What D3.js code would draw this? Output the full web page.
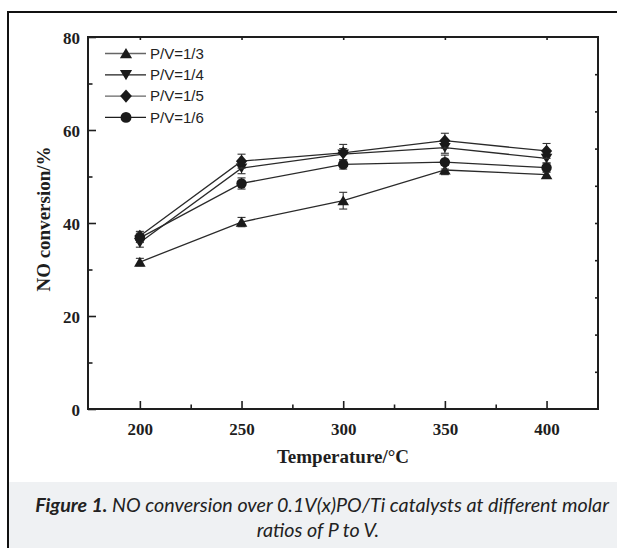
<!DOCTYPE html>
<html><head><meta charset="utf-8">
<script src="https://cdn.jsdelivr.net/npm/d3@7"></script>
<style>body{margin:0;background:#fff}svg{display:block}</style>
</head><body>
<svg id="c" width="617" height="548"></svg>
<script>
const temps = [200, 250, 300, 350, 400];
const seriesNames = ["P/V=1/3", "P/V=1/4", "P/V=1/5", "P/V=1/6"];
const seriesShapes = ["triUp", "triDown", "diamond", "circle"];
const pv13 = [31.6, 40.2, 44.8, 51.4, 50.4];
const pv14 = [35.8, 51.8, 54.8, 56.2, 53.9];
const pv15 = [37.2, 53.3, 55.1, 57.7, 55.5];
const pv16 = [36.8, 48.5, 52.6, 53.1, 51.9];
const err13 = [0.8, 1.0, 1.8, 1.0, 0.8];
const err14 = [1.0, 1.2, 1.2, 1.2, 1.0];
const err15 = [1.0, 1.5, 1.8, 1.6, 1.6];
const err16 = [1.0, 1.2, 1.0, 1.5, 1.0];
const xTicks = [200, 250, 300, 350, 400];
const xMinor = [225, 275, 325, 375];
const yTicks = [0, 20, 40, 60, 80];
const yMinor = [10, 30, 50, 70];
const rightTicks = [8, 16, 24, 32, 40, 48, 56, 64, 72];
const xTitle = "Temperature/°C";
const yTitle = "NO conversion/%";
const captionBold = "Figure 1.";
const captionLine1 = " NO conversion over 0.1V(x)PO/Ti catalysts at different molar";
const captionLine2 = "ratios of P to V.";

const values = [pv13, pv14, pv15, pv16];
const errs = [err13, err14, err15, err16];

const svg = d3.select("#c");
const L = 88, R = 598, T = 37, B = 409;
const x = d3.scaleLinear().domain([174.5, 425.3]).range([L, R]);
const y = d3.scaleLinear().domain([0, 80]).range([B, T]);
const ink = "#1e1e1e";

// outer frame
svg.append("rect").attr("x", 9).attr("y", 482).attr("width", 608).attr("height", 66).attr("fill", "#eff1f3");
svg.append("line").attr("x1", 8).attr("x2", 617).attr("y1", 12).attr("y2", 12).attr("stroke", "#111").attr("stroke-width", 2);
svg.append("line").attr("x1", 8).attr("x2", 8).attr("y1", 11).attr("y2", 548).attr("stroke", "#111").attr("stroke-width", 2);

// symbols
function sym(shape, s) {
  const p = d3.path();
  if (shape === "triUp") { p.moveTo(0, -5.2*s); p.lineTo(5.8*s, 4.6*s); p.lineTo(-5.8*s, 4.6*s); p.closePath(); }
  else if (shape === "triDown") { p.moveTo(0, 5.2*s); p.lineTo(5.8*s, -4.6*s); p.lineTo(-5.8*s, -4.6*s); p.closePath(); }
  else if (shape === "diamond") { p.moveTo(0, -6.3*s); p.lineTo(5.6*s, 0); p.lineTo(0, 6.3*s); p.lineTo(-5.6*s, 0); p.closePath(); }
  else { p.arc(0, 0, 5.2*s, 0, 2*Math.PI); p.closePath(); }
  return p.toString();
}

// axes via d3 axis generators (ticks inward)
const axB = svg.append("g").attr("transform", `translate(0,${B})`)
  .call(d3.axisBottom(x).tickValues(xTicks).tickSize(-8).tickPadding(14).tickFormat(d3.format("d")));
svg.append("g").attr("transform", `translate(0,${B})`)
  .call(d3.axisBottom(x).tickValues(xMinor).tickSize(-4.5).tickFormat(""));
const axL = svg.append("g").attr("transform", `translate(${L},0)`)
  .call(d3.axisLeft(y).tickValues(yTicks).tickSize(-8).tickPadding(8).tickFormat(d3.format("d")));
svg.append("g").attr("transform", `translate(${L},0)`)
  .call(d3.axisLeft(y).tickValues(yMinor).tickSize(-4.5).tickFormat(""));
svg.append("g").attr("transform", `translate(0,${T})`)
  .call(d3.axisTop(x).tickValues(xTicks).tickSize(-3).tickFormat(""));
svg.append("g").attr("transform", `translate(${R},0)`)
  .call(d3.axisRight(y).tickValues(rightTicks).tickSize(-3).tickFormat(""));
svg.selectAll(".domain").remove();
svg.selectAll(".tick line").attr("stroke", ink).attr("stroke-width", 1.6);
svg.selectAll(".tick text").attr("font-family", "Liberation Serif, serif").attr("font-weight", "bold")
  .attr("font-size", 17).attr("fill", ink);
axL.selectAll(".tick text").attr("dy", "0.36em");
svg.append("rect").attr("x", L).attr("y", T).attr("width", R - L).attr("height", B - T)
  .attr("fill", "none").attr("stroke", ink).attr("stroke-width", 2);

// titles
svg.append("text").attr("x", (L + R) / 2).attr("y", 463).attr("text-anchor", "middle")
  .attr("font-family", "Liberation Serif, serif").attr("font-weight", "bold").attr("font-size", 19)
  .attr("fill", ink).text(xTitle);
svg.append("text").attr("transform", `translate(50,${(T + B) / 2 - 4}) rotate(-90)`).attr("text-anchor", "middle")
  .attr("font-family", "Liberation Serif, serif").attr("font-weight", "bold").attr("font-size", 19)
  .attr("fill", ink).text(yTitle);

// data
const line = d3.line().x((d, i) => x(temps[i])).y(d => y(d));
values.forEach((vals, si) => {
  const g = svg.append("g");
  g.append("path").attr("d", line(vals)).attr("fill", "none").attr("stroke", "#2a2a2a").attr("stroke-width", 1.3);
  vals.forEach((v, i) => {
    const cx = x(temps[i]), e = errs[si][i];
    g.append("line").attr("x1", cx).attr("x2", cx).attr("y1", y(v - e)).attr("y2", y(v + e)).attr("stroke", "#333").attr("stroke-width", 1.1);
    [v - e, v + e].forEach(w => g.append("line").attr("x1", cx - 4).attr("x2", cx + 4).attr("y1", y(w)).attr("y2", y(w)).attr("stroke", "#333").attr("stroke-width", 1.1));
  });
  g.selectAll("path.m").data(vals).join("path").attr("class", "m")
    .attr("transform", (d, i) => `translate(${x(temps[i])},${y(d)})`)
    .attr("d", sym(seriesShapes[si], 1)).attr("fill", "#1a1a1a");
});

// legend
seriesNames.forEach((n, i) => {
  const ly = 53.5 + i * 21.3;
  svg.append("line").attr("x1", 105).attr("x2", 146).attr("y1", ly).attr("y2", ly)
    .attr("stroke", i % 2 === 0 ? "#666" : "#1e1e1e").attr("stroke-width", 1.3);
  svg.append("path").attr("transform", `translate(126,${ly})`).attr("d", sym(seriesShapes[i], 1.05)).attr("fill", "#1a1a1a");
  svg.append("text").attr("x", 150).attr("y", ly + 5.3).attr("font-family", "Liberation Sans, Arial, sans-serif")
    .attr("font-size", 15).attr("fill", "#222").text(n);
});

// caption
const cap = svg.append("g").attr("font-family", "Lato, 'Open Sans', sans-serif").attr("font-style", "italic").attr("fill", "#222");
const t1 = cap.append("text").attr("x", 322).attr("y", 511.5).attr("text-anchor", "middle").attr("font-size", 19);
t1.append("tspan").attr("font-weight", "bold").text(captionBold);
t1.append("tspan").text(captionLine1);
const t2 = cap.append("text").attr("x", 318).attr("y", 536.5).attr("text-anchor", "middle").attr("font-size", 19).text(captionLine2);
const w1 = t1.node().getComputedTextLength();
const f = 19 * 574 / w1;
t1.attr("font-size", f); t2.attr("font-size", f);
</script>
</body></html>
